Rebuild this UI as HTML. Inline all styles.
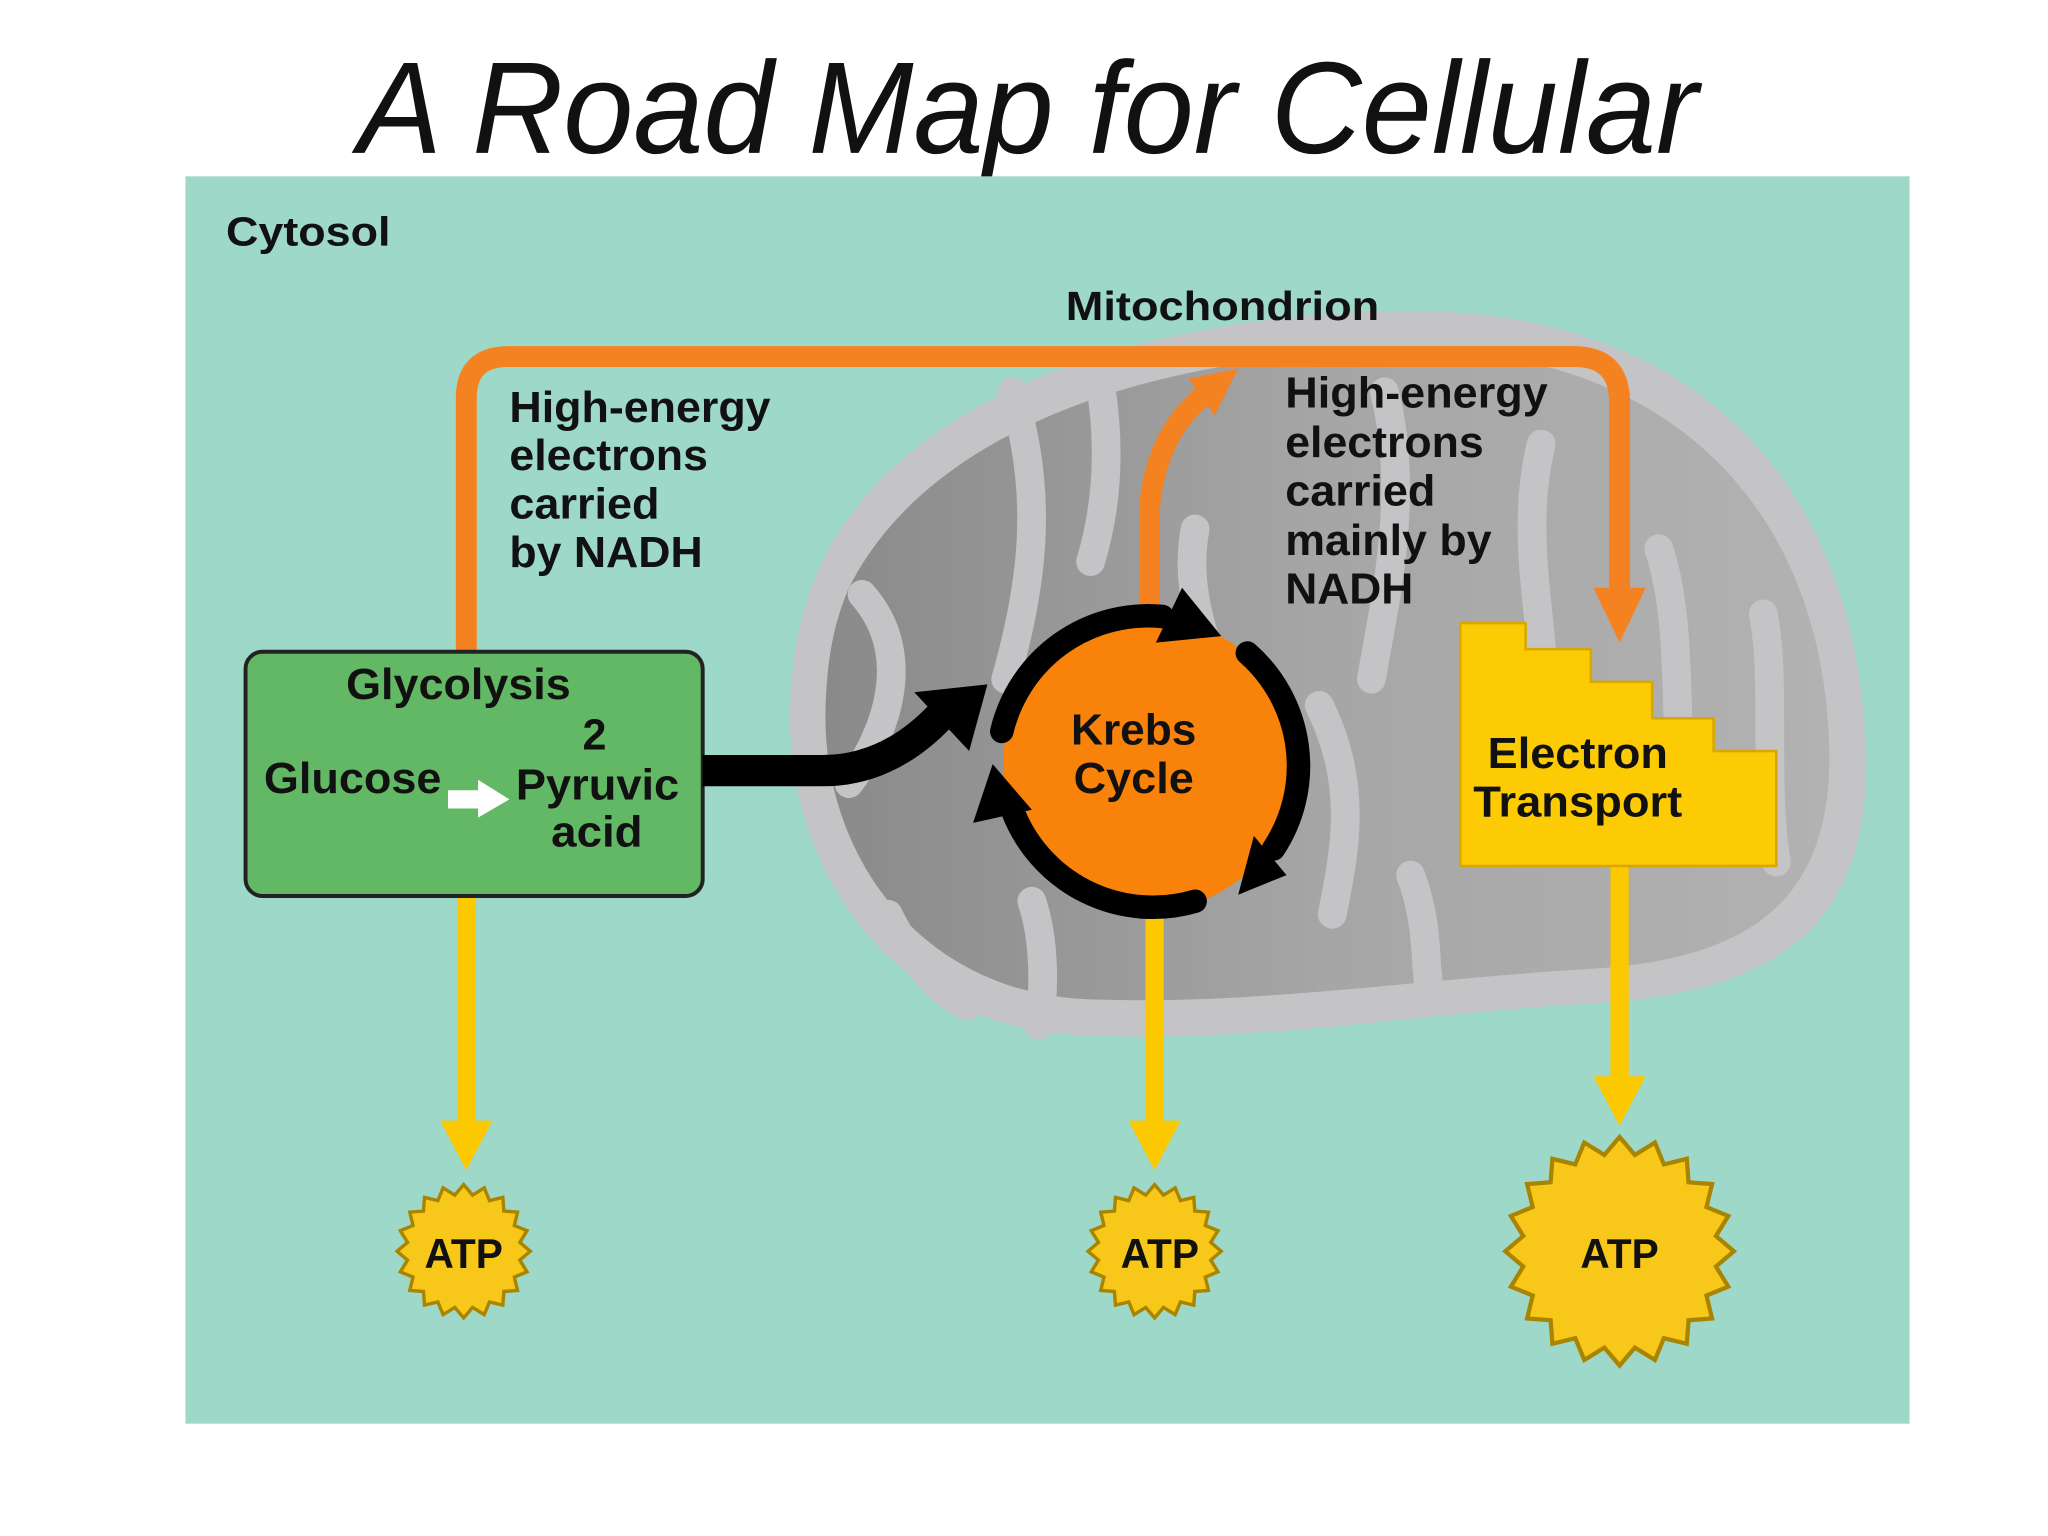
<!DOCTYPE html>
<html><head><meta charset="utf-8"><style>
html,body{margin:0;padding:0;background:#fff;width:2048px;height:1536px;overflow:hidden}
svg{display:block}
text{font-family:"Liberation Sans",Arial,sans-serif;font-weight:bold;fill:#111}
</style></head><body>
<svg width="2048" height="1536" viewBox="0 0 1568 1176" preserveAspectRatio="none" xmlns="http://www.w3.org/2000/svg">
<defs>
<linearGradient id="ig" x1="0" y1="0" x2="1" y2="0">
<stop offset="0" stop-color="#8a8a8a"/><stop offset="0.5" stop-color="#a6a6a6"/><stop offset="1" stop-color="#b2b2b2"/>
</linearGradient>
<g id="spk"><polygon points="-0.17,-0.8 0,-1 0.17,-0.8"/></g>
<g id="star">
<circle r="0.82"/>
<use href="#spk"/><use href="#spk" transform="rotate(18)"/><use href="#spk" transform="rotate(36)"/><use href="#spk" transform="rotate(54)"/><use href="#spk" transform="rotate(72)"/><use href="#spk" transform="rotate(90)"/><use href="#spk" transform="rotate(108)"/><use href="#spk" transform="rotate(126)"/><use href="#spk" transform="rotate(144)"/><use href="#spk" transform="rotate(162)"/><use href="#spk" transform="rotate(180)"/><use href="#spk" transform="rotate(198)"/><use href="#spk" transform="rotate(216)"/><use href="#spk" transform="rotate(234)"/><use href="#spk" transform="rotate(252)"/><use href="#spk" transform="rotate(270)"/><use href="#spk" transform="rotate(288)"/><use href="#spk" transform="rotate(306)"/><use href="#spk" transform="rotate(324)"/><use href="#spk" transform="rotate(342)"/>
</g>
</defs>
<text x="787" y="117" text-anchor="middle" style="font-weight:normal;font-style:italic;font-size:100px" textLength="1026" lengthAdjust="spacingAndGlyphs">A Road Map for Cellular</text>
<rect x="142" y="135" width="1320" height="955" fill="#9dd8c8"/>
<path d="M625,440 C680,310 860,240 1080,238 C1290,238 1415,360 1428,560 C1438,710 1360,760 1220,768 C1080,776 960,800 820,792 C680,784 600,660 605,540 C607,500 612,470 625,440 Z" fill="#c4c4c6"/>
<path d="M650,450 C710,330 880,270 1080,268 C1270,268 1390,380 1400,560 C1408,690 1340,735 1215,742 C1080,750 960,770 830,765 C700,758 630,650 632,545 C633,505 638,478 650,450 Z" fill="url(#ig)"/>
<g stroke="#c4c4c6" stroke-width="22" fill="none" stroke-linecap="round">
<path d="M660,455 C700,500 680,560 650,600"/>
<path d="M775,300 C800,380 790,450 770,520"/>
<path d="M840,280 C850,330 850,380 835,430"/>
<path d="M915,405 C905,460 930,500 930,520"/>
<path d="M1010,540 C1040,600 1030,650 1020,700"/>
<path d="M1060,300 C1080,380 1060,460 1050,520"/>
<path d="M1180,340 C1160,420 1190,500 1180,560"/>
<path d="M1270,420 C1290,480 1280,560 1290,620"/>
<path d="M1350,470 C1360,520 1350,600 1360,660"/>
<path d="M680,700 C700,740 720,760 740,770"/>
<path d="M790,690 C800,720 800,760 795,785"/>
<path d="M1080,670 C1095,710 1090,740 1095,760"/>
</g>
<text x="173" y="188" style="font-size:31px" textLength="126" lengthAdjust="spacingAndGlyphs">Cytosol</text>
<text x="816" y="245" style="font-size:31px" textLength="240" lengthAdjust="spacingAndGlyphs">Mitochondrion</text>
<path d="M357,500 L357,305 Q357,273 389,273 L1205,273 Q1240,273 1240,308 L1240,455" fill="none" stroke="#f58220" stroke-width="16"/>
<polygon points="1220,450 1260,450 1240,492" fill="#f58220"/>
<path d="M880,465 L880,390 Q885,330 925,300" fill="none" stroke="#f58220" stroke-width="16"/>
<polygon points="910,290 948,282 930,318" fill="#f58220"/>
<g style="font-size:33px">
<text x="390" y="323" textLength="200" lengthAdjust="spacingAndGlyphs">High-energy</text>
<text x="390" y="360" textLength="152" lengthAdjust="spacingAndGlyphs">electrons</text>
<text x="390" y="397" textLength="115" lengthAdjust="spacingAndGlyphs">carried</text>
<text x="390" y="434" textLength="148" lengthAdjust="spacingAndGlyphs">by NADH</text>
<text x="984" y="312" textLength="201" lengthAdjust="spacingAndGlyphs">High-energy</text>
<text x="984" y="350" textLength="152" lengthAdjust="spacingAndGlyphs">electrons</text>
<text x="984" y="387" textLength="115" lengthAdjust="spacingAndGlyphs">carried</text>
<text x="984" y="425" textLength="158" lengthAdjust="spacingAndGlyphs">mainly by</text>
<text x="984" y="462" textLength="98" lengthAdjust="spacingAndGlyphs">NADH</text>
</g>
<g stroke="#fcc800" stroke-width="14" fill="none">
<line x1="357" y1="686" x2="357" y2="862"/>
<line x1="884" y1="700" x2="884" y2="862"/>
<line x1="1240" y1="663" x2="1240" y2="828"/>
</g>
<g fill="#fcc800">
<polygon points="337,858 377,858 357,896"/>
<polygon points="864,858 904,858 884,896"/>
<polygon points="1220,824 1260,824 1240,862"/>
</g>
<rect x="188" y="499" width="350" height="187" rx="13" fill="#63b865" stroke="#222" stroke-width="3"/>
<g style="font-size:33px">
<text x="265" y="535" textLength="172" lengthAdjust="spacingAndGlyphs">Glycolysis</text>
<text x="446" y="574">2</text>
<text x="202" y="607" textLength="136" lengthAdjust="spacingAndGlyphs">Glucose</text>
<text x="395" y="612" textLength="125" lengthAdjust="spacingAndGlyphs">Pyruvic</text>
<text x="422" y="648" textLength="70" lengthAdjust="spacingAndGlyphs">acid</text>
</g>
<polygon points="343,605 366,605 366,597 390,612 366,626 366,619 343,619" fill="#fff"/>
<path d="M538,590 L630,590 Q680,590 720,548" fill="none" stroke="#000" stroke-width="24"/>
<polygon points="700,530 756,524 742,575" fill="#000"/>
<circle cx="880" cy="585" r="112" fill="#f8820a"/>
<g fill="none" stroke="#000" stroke-width="18" stroke-linecap="round">
<path d="M767,560 A115,115 0 0 1 890,472"/>
<path d="M955,500 A115,115 0 0 1 975,650"/>
<path d="M915,690 A115,115 0 0 1 775,620"/>
</g>
<polygon points="905,450 935,487 885,492" fill="#000"/>
<polygon points="985,670 948,685 960,640" fill="#000"/>
<polygon points="745,630 760,585 790,620" fill="#000"/>
<text x="868" y="570" text-anchor="middle" style="font-size:33px" textLength="96" lengthAdjust="spacingAndGlyphs">Krebs</text>
<text x="868" y="607" text-anchor="middle" style="font-size:33px" textLength="92" lengthAdjust="spacingAndGlyphs">Cycle</text>
<polygon points="1118,477 1168,477 1168,497 1218,497 1218,522 1265,522 1265,550 1312,550 1312,575 1360,575 1360,663 1118,663" fill="#fdcb04" stroke="#d9a800" stroke-width="2"/>
<text x="1139" y="588" style="font-size:33px" textLength="138" lengthAdjust="spacingAndGlyphs">Electron</text>
<text x="1128" y="625" style="font-size:33px" textLength="160" lengthAdjust="spacingAndGlyphs">Transport</text>
<g fill="#a88400"><use href="#star" transform="translate(355,958) scale(53)"/><use href="#star" transform="translate(884,958) scale(53)"/><use href="#star" transform="translate(1240,958) scale(90)"/></g>
<g fill="#f7c81a"><use href="#star" transform="translate(355,958) scale(49)"/><use href="#star" transform="translate(884,958) scale(49)"/><use href="#star" transform="translate(1240,958) scale(85)"/></g>
<g style="font-size:32px;fill:#1a1a1a">
<text x="355" y="971" text-anchor="middle" textLength="60" lengthAdjust="spacingAndGlyphs">ATP</text>
<text x="888" y="971" text-anchor="middle" textLength="60" lengthAdjust="spacingAndGlyphs">ATP</text>
<text x="1240" y="971" text-anchor="middle" textLength="60" lengthAdjust="spacingAndGlyphs">ATP</text>
</g>
</svg>
</body></html>
